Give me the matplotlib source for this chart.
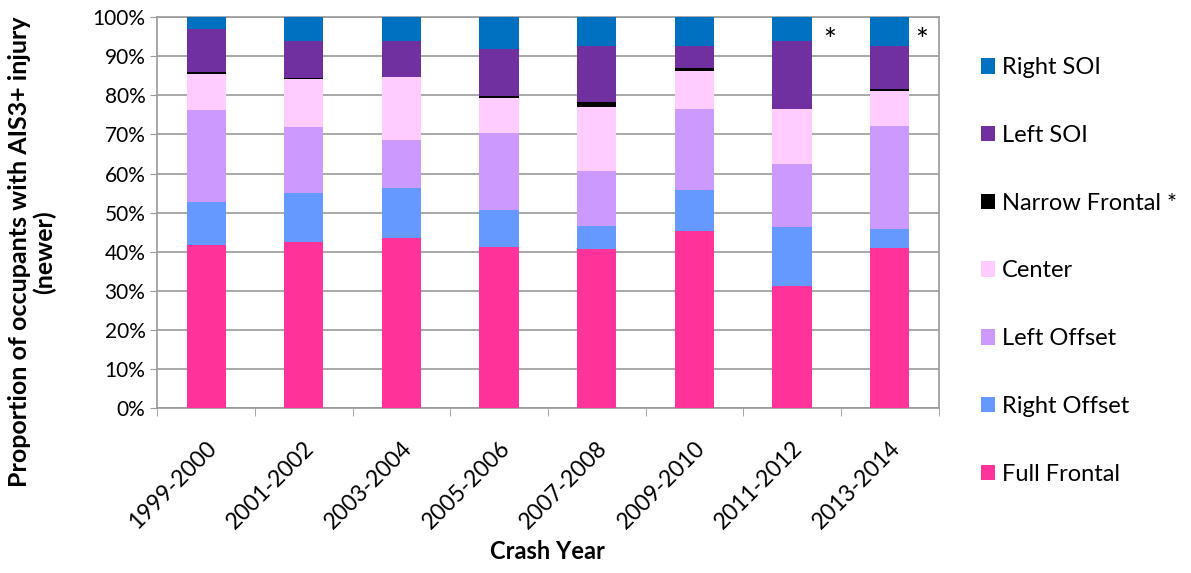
import matplotlib
matplotlib.use("Agg")
import matplotlib.pyplot as plt
import matplotlib.transforms as mtransforms
import numpy as np

# crash year groups
years = ["1999-2000", "2001-2002", "2003-2004", "2005-2006",
         "2007-2008", "2009-2010", "2011-2012", "2013-2014"]

# proportions (%) per crash mode, bottom to top
full_frontal   = [41.6, 42.6, 43.6, 41.1, 40.8, 45.4, 31.2, 40.9]
right_offset   = [11.2, 12.5, 12.8,  9.6,  5.8, 10.4, 15.2,  5.0]
left_offset    = [23.5, 16.9, 12.2, 19.6, 14.1, 20.8, 16.1, 26.3]
center         = [ 9.2, 12.1, 16.0,  8.9, 16.4,  9.6, 14.0,  9.0]
narrow_frontal = [ 0.4,  0.4,  0.0,  0.7,  1.3,  0.8,  0.0,  0.3]
left_soi       = [11.1,  9.3,  9.3, 11.9, 14.2,  5.6, 17.4, 11.0]
right_soi      = [ 3.0,  6.2,  6.1,  8.2,  7.4,  7.4,  6.1,  7.5]

series = [
    ("Full Frontal", full_frontal, "#FF3399"),
    ("Right Offset", right_offset, "#6699FF"),
    ("Left Offset", left_offset, "#CC99FF"),
    ("Center", center, "#FFCCFF"),
    ("Narrow Frontal *", narrow_frontal, "#000000"),
    ("Left SOI", left_soi, "#7030A0"),
    ("Right SOI", right_soi, "#0070C0"),
]

plt.rcParams['font.family'] = ['Lato', 'DejaVu Sans']

fig = plt.figure(figsize=(11.91, 5.73), dpi=100)
ax = fig.add_axes([0.132, 0.288, 0.656, 0.682])

x = np.arange(len(years))
bottom = np.zeros(len(years))
handles = []
for name, vals, color in series:
    b = ax.bar(x, vals, 0.4, bottom=bottom, color=color, label=name, zorder=3)
    handles.append(b)
    bottom += np.array(vals)

# asterisks for the last two periods
ax.text(6.385, 93.8, "*", fontsize=22, ha="center", va="center")
ax.text(7.33, 93.8, "*", fontsize=22, ha="center", va="center")

ax.set_xlim(-0.5, len(years) - 0.5)
ax.set_ylim(0, 100)
ax.set_yticks(np.arange(0, 101, 10))
ax.set_yticklabels([f"{v}%" for v in range(0, 101, 10)], fontsize=15)
ax.yaxis.grid(True, color="#999999", linewidth=1.2, zorder=0)

ax.set_xticks(x)
ax.set_xticklabels(years, rotation=45, ha="right", rotation_mode="anchor", fontsize=16.5)
shift = mtransforms.ScaledTranslation(0.06, 0, fig.dpi_scale_trans)
for lbl in ax.get_xticklabels():
    lbl.set_transform(lbl.get_transform() + shift)
ax.set_xticks(np.arange(-0.5, len(years), 1), minor=True)
ax.tick_params(axis="x", which="major", length=0, pad=21)
ax.tick_params(axis="x", which="minor", length=6, color="#999999")
ax.tick_params(axis="y", length=5, color="#999999")

for s in ax.spines.values():
    s.set_color("#999999")
    s.set_linewidth(1.2)

ax.set_xlabel("Crash Year", fontsize=17, fontweight="bold", va="center")
ax.xaxis.set_label_coords(0.5, -0.366)

fig.text(0.027, 0.56, "Proportion of occupants with AIS3+ injury\n(newer)",
         rotation=90, ha="center", va="center", multialignment="center",
         fontsize=18, fontweight="bold", linespacing=1.1)

leg = ax.legend(handles[::-1], [s[0] for s in series][::-1],
                loc="upper left", bbox_to_anchor=(1.027, 0.952),
                frameon=False, fontsize=17, labelspacing=1.98,
                handlelength=0.62, handleheight=0.62, handletextpad=0.28)

fig.savefig("out.png", dpi=100)
